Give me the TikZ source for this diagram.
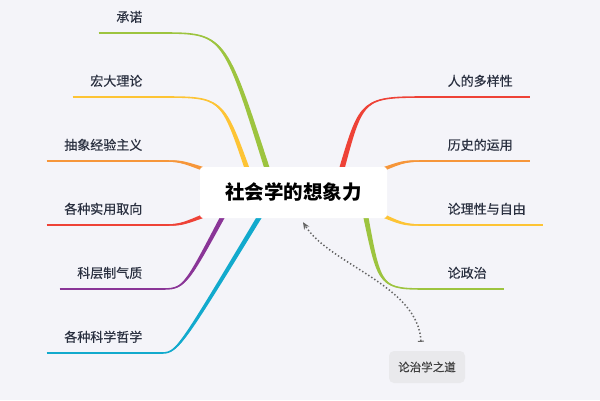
\documentclass[tikz,border=0pt]{standalone}
\usepackage{fontspec}
\setmainfont{Noto Sans CJK SC}
\newfontfamily\topicfont{Noto Sans CJK SC}[FakeBold=0.5]
\usetikzlibrary{arrows.meta,calc}

\definecolor{paper}{HTML}{F4F4F9}
\definecolor{ink}{HTML}{2A3040}
\definecolor{cgreen}{HTML}{9DC43F}
\definecolor{cyellow}{HTML}{FDC435}
\definecolor{corange}{HTML}{F6963A}
\definecolor{cred}{HTML}{EE4237}
\definecolor{cpurple}{HTML}{8A3597}
\definecolor{ccyan}{HTML}{12AACD}
\definecolor{floatbg}{HTML}{E9E9EC}

\pgfdeclarelayer{front}
\pgfsetlayers{main,front}

% tapered branch: colour, start, control, end, half width at start
\newcommand{\twig}[5]{%
  \fill[#1] ($(#2)+(#5)$) .. controls ($(#3)+0.6*(#5)$) .. (#4)
            .. controls ($(#3)-0.6*(#5)$) .. ($(#2)-(#5)$) -- cycle;
  \draw[#1,line width=1.6pt] (#2) .. controls (#3) .. (#4);}
\newcommand{\uline}[2]{\draw[#1,line width=1.6pt] (#2.south west) -- (#2.south east);}

\begin{document}
\begin{tikzpicture}[x=1pt,y=-1pt,
    topic/.style={font=\topicfont\fontsize{13}{13}\selectfont,text=ink,inner xsep=17.5pt,
                  inner ysep=11pt,text height=11pt,text depth=0pt},
    lefttopic/.style={topic,anchor=south east},
    righttopic/.style={topic,anchor=south west},
    central/.style={fill=white,rounded corners=3pt,minimum width=187pt,minimum height=51pt,
                    font=\fontsize{19.5}{19.5}\selectfont\bfseries},
    floating/.style={fill=floatbg,rounded corners=5pt,minimum width=76pt,minimum height=32pt,
                     text=black!75,font=\topicfont\fontsize{11.5}{11.5}\selectfont},
    relation/.style={black!60,line width=1.5pt,dash pattern=on 1.4pt off 2.2pt,
                     {Bar[width=6pt,line width=1pt]}-{Stealth[length=7pt,width=6pt]}}]

  \fill[paper] (0,0) rectangle (600,400);
  \useasboundingbox (0,0) rectangle (600,400);

  \begin{pgfonlayer}{front}
    \node[central] (root) at (293.5,192.5) {社会学的想象力};
  \end{pgfonlayer}

  \node[lefttopic] (chengnuo)  at (160,33)  {承诺};
  \node[lefttopic] (hongda)    at (160,97)  {宏大理论};
  \node[lefttopic] (chouxiang) at (160,161) {抽象经验主义};
  \node[lefttopic] (shiyong)   at (160,225) {各种实用取向};
  \node[lefttopic] (kecengzhi) at (160,289) {科层制气质};
  \node[lefttopic] (kexue)     at (160,353) {各种科学哲学};

  \node[righttopic] (duoyang)  at (430,97)  {人的多样性};
  \node[righttopic] (lishi)    at (430,161) {历史的运用};
  \node[righttopic] (lixing)   at (430,225) {论理性与自由};
  \node[righttopic] (zhengzhi) at (430,289) {论政治};

  \node[floating] (zhixue) at (427,367) {论治学之道};

  \twig{cgreen}{$(root.north)+(-26,3)$}{224,33}{chengnuo.south east}{2.8,0}
  \twig{cyellow}{$(root.north)+(-46,3)$}{222,97}{hongda.south east}{2.6,0}
  \twig{corange}{$(root.north west)+(3,2)$}{180,161}{chouxiang.south east}{0,2}
  \twig{cred}{$(root.south west)+(3,-2)$}{180,225}{shiyong.south east}{0,2}
  \twig{cpurple}{$(root.south)+(-70,-3)$}{184,289}{kecengzhi.south east}{2.6,0}
  \twig{ccyan}{$(root.south)+(-33,-3)$}{177,353}{kexue.south east}{2.8,0}

  \twig{cred}{$(root.north)+(48,3)$}{362,97}{duoyang.south west}{2.8,0}
  \twig{corange}{$(root.north east)+(-3,2)$}{405,161}{lishi.south west}{0,2}
  \twig{cyellow}{$(root.south east)+(-3,-2)$}{405,225}{lixing.south west}{0,2}
  \twig{cgreen}{$(root.south)+(72,-3)$}{380,289}{zhengzhi.south west}{2.6,0}

  \uline{cgreen}{chengnuo}
  \uline{cyellow}{hongda}
  \uline{corange}{chouxiang}
  \uline{cred}{shiyong}
  \uline{cpurple}{kecengzhi}
  \uline{ccyan}{kexue}
  \uline{cred}{duoyang}
  \uline{corange}{lishi}
  \uline{cyellow}{lixing}
  \uline{cgreen}{zhengzhi}

  \coordinate (relstart) at ($(zhixue.north)+(-6,-9)$);
  \coordinate (relend)   at ($(root.south)+(9.5,4)$);
  \draw[relation] (relstart) .. controls (418,285) and (330,265) .. (relend);

\end{tikzpicture}
\end{document}
